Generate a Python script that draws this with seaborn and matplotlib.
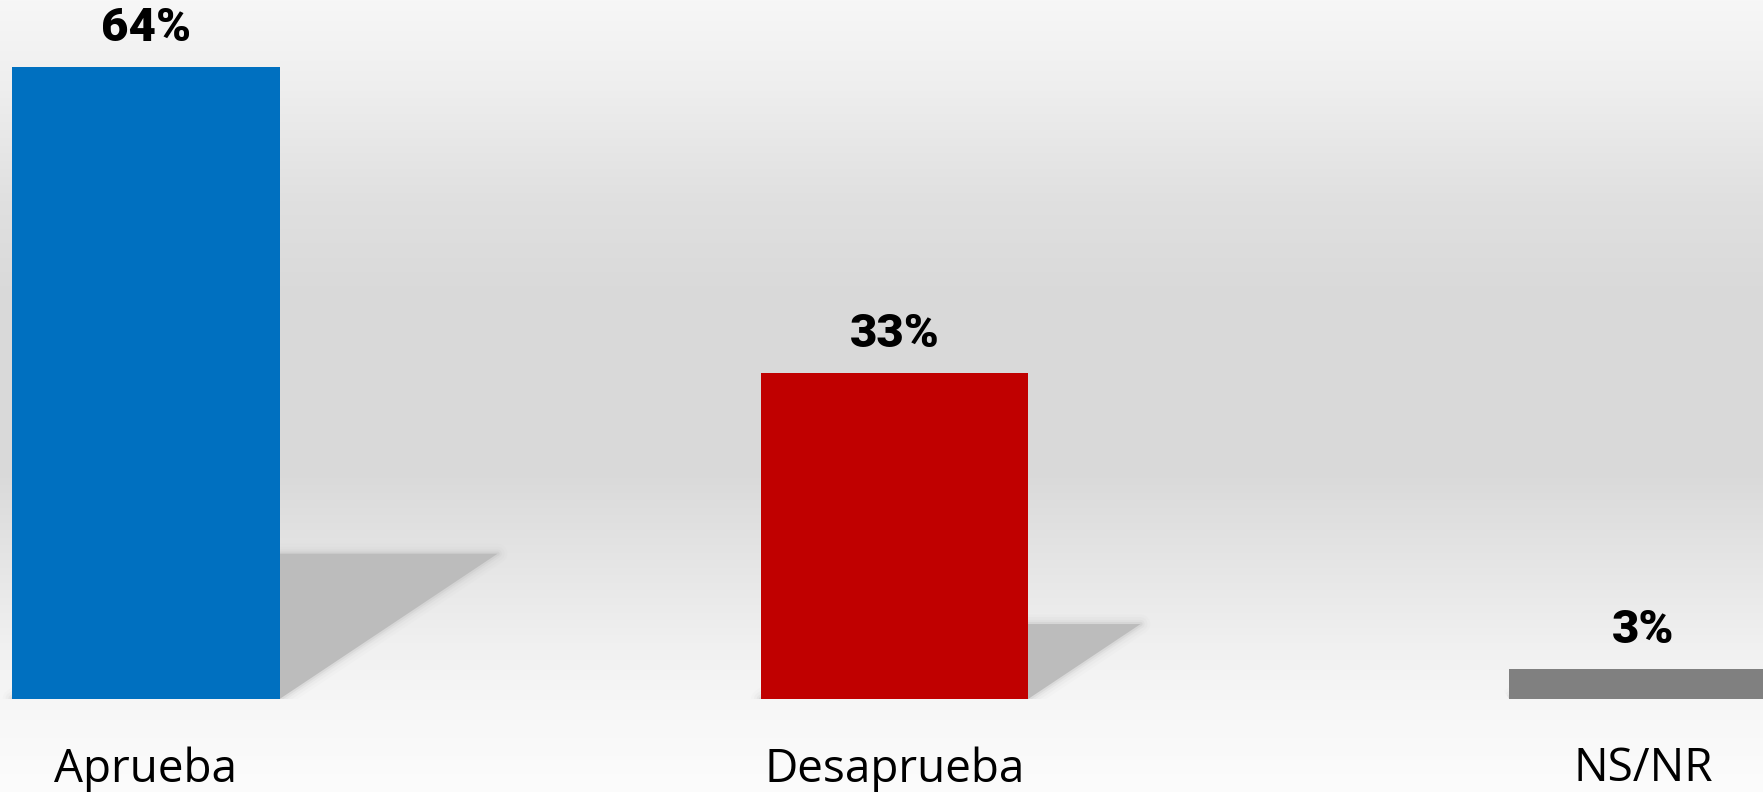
import numpy as np
import pandas as pd
import matplotlib
matplotlib.use("Agg")
import matplotlib.pyplot as plt
from matplotlib.patches import Polygon
import seaborn as sns

# chart data
categories = ["Aprueba", "Desaprueba", "NS/NR"]
values = [64, 33, 3]
bar_colors = ["#0070C0", "#C00000", "#808080"]
labels = [f"{v}%" for v in values]

sns.set_theme(style="white")
plt.rcParams["font.family"] = ["Open Sans", "DejaVu Sans"]

W, H = 1763, 792
fig = plt.figure(figsize=(W / 100, H / 100), dpi=100)

# background gradient (light top, grey middle, light bottom)
bg = fig.add_axes([0, 0, 1, 1], zorder=0)
ys = np.arange(H)
stops_y = [0, 90, 200, 300, 470, 560, 650, 720, 792]
stops_v = [247, 238, 224, 217, 217, 229, 241, 248, 252]
grad = np.interp(ys, stops_y, stops_v) / 255.0
img = np.repeat(grad[:, None], 3, axis=1)[:, None, :]
bg.imshow(img, aspect="auto", extent=[0, 1, 0, 1], origin="upper")
bg.set_axis_off()

# main axes: bottom of bars at 699 px from top
base_px = 699
ax = fig.add_axes([0, (H - base_px) / H, 1, base_px / H], zorder=1)
ax.set_facecolor("none")

df = pd.DataFrame({"cat": categories, "val": values})
sns.barplot(data=df, x="cat", y="val", hue="cat", palette=bar_colors,
            width=0.357, legend=False, ax=ax, saturation=1, zorder=3,
            linewidth=0, edgecolor="none")

px_per_unit_y = 9.875
px_per_unit_x = 748.5
ax.set_ylim(0, base_px / px_per_unit_y)
ax.set_xlim(-146 / px_per_unit_x, (W - 146) / px_per_unit_x)

# skewed drop shadows behind bars
for p in list(ax.patches):
    x0 = p.get_x()
    x1 = x0 + p.get_width()
    sh = 0.23 * p.get_height()
    dx = 1.5 * sh * px_per_unit_y / px_per_unit_x
    pts = [(x0, 0), (x1, 0), (x1 + dx, sh), (x0 + dx, sh)]
    for lw, a in [(14, 0.05), (10, 0.08), (6, 0.14), (3, 0.25)]:
        ax.add_patch(Polygon(pts, closed=True, facecolor="none",
                             edgecolor="#bcbcbc", lw=lw, alpha=a,
                             joinstyle="round", zorder=1))
    ax.add_patch(Polygon(pts, closed=True, facecolor="#bcbcbc",
                         edgecolor="none", zorder=2))

# value labels
for p, lab in zip(ax.patches[:len(values)], labels):
    ax.annotate(lab, (p.get_x() + p.get_width() / 2, p.get_height()),
                xytext=(0, 18.7), textcoords="offset points",
                ha="center", va="baseline", fontsize=34, fontweight="black",
                family=["Roboto", "DejaVu Sans"], color="black")

ax.set_xlabel("")
ax.set_ylabel("")
ax.set_yticks([])
ax.tick_params(axis="x", length=0, pad=34, labelsize=33, colors="black")
sns.despine(ax=ax, left=True, bottom=True)

fig.savefig("out.png", dpi=100)
